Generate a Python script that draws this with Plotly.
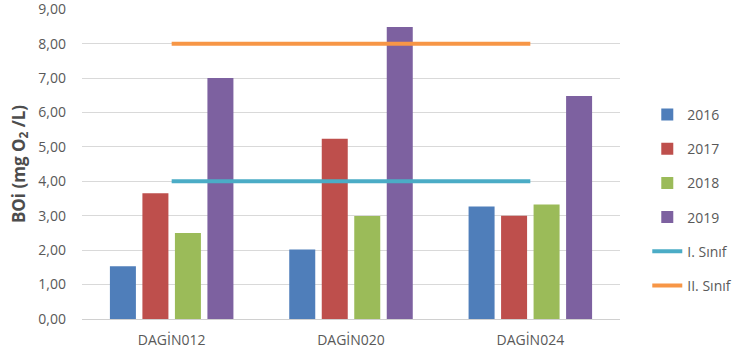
import plotly.graph_objects as go

categories = ["DAGİN012", "DAGİN020", "DAGİN024"]
years = ["2016", "2017", "2018", "2019"]
values_2016 = [1.53, 2.02, 3.27]
values_2017 = [3.65, 5.24, 3.00]
values_2018 = [2.50, 2.99, 3.33]
values_2019 = [7.00, 8.48, 6.48]
class_1 = [4, 4, 4]
class_2 = [8, 8, 8]
y_ticks = [0, 1, 2, 3, 4, 5, 6, 7, 8, 9]

bar_series = [values_2016, values_2017, values_2018, values_2019]
bar_colors = ["#4F7EBA", "#BE4F4C", "#9BBB59", "#7D61A0"]

FONT = "Open Sans"
GRAY = "#595959"

fig = go.Figure()
for i, (name, vals, col) in enumerate(zip(years, bar_series, bar_colors)):
    fig.add_trace(go.Bar(
        x=categories, y=vals, name=name, marker_color=col,
        marker_line_width=0, legendgroup=f"g{i}"))

fig.add_trace(go.Scatter(x=categories, y=class_1, name="I. Sınıf", mode="lines",
                         line=dict(color="#4BACC6", width=4), legendgroup="g4"))
fig.add_trace(go.Scatter(x=categories, y=class_2, name="II. Sınıf", mode="lines",
                         line=dict(color="#F79646", width=4), legendgroup="g5"))

fig.update_layout(
    width=750, height=357,
    margin=dict(l=82, r=130, t=9, b=38),
    plot_bgcolor="white", paper_bgcolor="white",
    separators=",.",
    barmode="group", bargap=0.275, bargroupgap=0.2,
    font=dict(family=FONT, size=14, color=GRAY),
    legend=dict(x=1.218, y=0.71, xanchor="right", yanchor="top",
                font=dict(family=FONT, size=14, color=GRAY),
                tracegroupgap=13, itemwidth=30, bgcolor="rgba(0,0,0,0)"),
    showlegend=True,
)
fig.update_yaxes(
    range=[0, 9.006], tickvals=y_ticks, tickformat=".2f",
    showgrid=True, gridcolor="#D9D9D9", gridwidth=1,
    zeroline=False, showline=False, ticklabelstandoff=15,
    automargin=False, ticklabeloverflow="allow",
    tickfont=dict(family=FONT, size=14, color=GRAY),
    title=dict(text="<b>BOi (mg O<sub>2</sub> /L)</b>", standoff=8,
               font=dict(family=FONT, size=17, color="#4D4D4D")),
)
fig.update_xaxes(
    showline=True, linecolor="#D0D0D0", linewidth=1,
    ticklabelstandoff=8, automargin=False,
    tickfont=dict(family=FONT, size=14, color=GRAY),
)

fig.write_html("out.html", config={"displayModeBar": False},
               post_script="document.body.style.margin='0px';")
